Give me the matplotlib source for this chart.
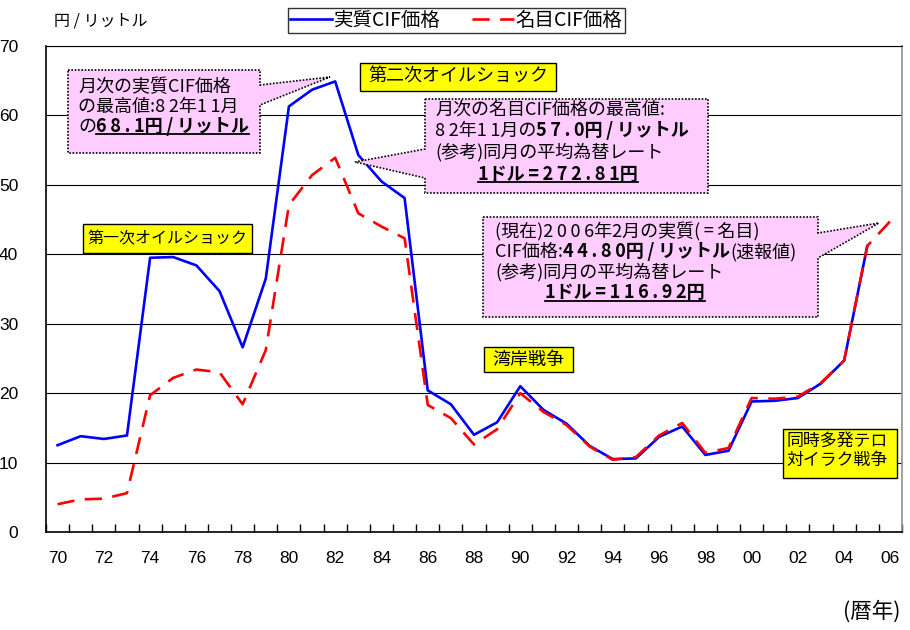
import numpy as np
import matplotlib
matplotlib.use("Agg")
import matplotlib.pyplot as plt
import matplotlib.transforms as mtransforms
from matplotlib.patches import Polygon, Rectangle
from matplotlib.lines import Line2D

plt.rcParams['font.family'] = ['Noto Sans CJK JP', 'DejaVu Sans']

# ---------------- data ----------------
years = list(range(1970, 2007))
real_cif = [12.5, 13.8, 13.4, 13.9, 39.5, 39.6, 38.4, 34.7, 26.6, 36.5,
            61.3, 63.7, 64.9, 54.3, 50.5, 48.1, 20.4, 18.4, 14.0, 15.8,
            21.0, 17.6, 15.6, 12.4, 10.5, 10.6, 13.7, 15.2, 11.1, 11.7,
            18.8, 18.9, 19.3, 21.4, 24.7, 41.2, np.nan]
nominal_cif = [4.0, 4.7, 4.8, 5.6, 19.7, 22.2, 23.4, 23.0, 18.4, 26.2,
               47.1, 51.4, 53.9, 45.9, 44.0, 42.3, 18.3, 16.4, 12.6, 14.8,
               20.0, 17.3, 15.4, 12.3, 10.4, 10.8, 13.9, 15.7, 11.4, 12.1,
               19.3, 19.2, 19.5, 21.5, 24.7, 41.2, 44.8]
tick_years = list(range(1970, 2007, 2))
tick_labels = ['70', '72', '74', '76', '78', '80', '82', '84', '86', '88',
               '90', '92', '94', '96', '98', '00', '02', '04', '06']
y_ticks = [0, 10, 20, 30, 40, 50, 60, 70]
series_names = ['実質CIF価格', '名目CIF価格']

W, H = 910, 630
fig = plt.figure(figsize=(W / 100, H / 100), dpi=100)
fig.patch.set_facecolor('white')
ax = fig.add_axes([46 / W, (H - 532) / H, (902 - 46) / W, (532 - 46) / H])

ax.plot(years, real_cif, color='#0000FF', lw=1.9, zorder=3, label=series_names[0])
ax.plot(years, nominal_cif, color='#FF0000', lw=1.9, zorder=4, label=series_names[1],
        dashes=(6.5, 4.0))

ax.set_xlim(1969.5, 2006.5)
ax.set_ylim(0, 70)
ax.set_yticks(y_ticks)
ax.set_yticklabels([str(v) for v in y_ticks], family=['Liberation Sans'], fontsize=12.5)
ax.set_xticks(tick_years)
ax.set_xticklabels(tick_labels, family=['Liberation Sans'], fontsize=12.5)
ax.set_xticks(np.arange(1969.5, 2007, 1.0), minor=True)
ax.tick_params(axis='x', which='major', length=0, pad=14)
ax.tick_params(axis='x', which='minor', direction='in', length=6, width=1, color='black')
ax.tick_params(axis='y', which='major', length=0, pad=20)
ax.grid(axis='y', color='black', lw=0.8, zorder=1)
for s in ['left', 'bottom', 'top']:
    ax.spines[s].set_color('black')
ax.spines['left'].set_linewidth(1.2)
ax.spines['bottom'].set_linewidth(1.2)
ax.spines['top'].set_linewidth(0.8)
ax.spines['right'].set_color('#909090')
ax.spines['right'].set_linewidth(1.2)

# legend
leg = fig.legend(loc='center', bbox_to_anchor=(456.5 / W, 1 - 20.5 / H), ncol=2,
                 frameon=True, fancybox=False, edgecolor='black', fontsize=14,
                 handlelength=2.15, handletextpad=0.1, columnspacing=1.6,
                 borderpad=0.1, borderaxespad=0)
leg.get_frame().set_linewidth(1.0)

# pixel transform (top-left origin)
T = mtransforms.Affine2D().scale(1 / W, -1 / H).translate(0, 1) + fig.transFigure

TS = '\u2009'  # thin space
fig.text(54 / W, 1 - 21 / H, '円 / リットル', fontsize=11.5, va='center', ha='left')
fig.text(872 / W, 1 - 612 / H, '(暦年)', fontsize=15.5, va='center', ha='center')

PINK = '#FFCCFF'
YELLOW = '#FFFF00'

def sp(s):
    return TS.join(s)

def callout(verts):
    p = Polygon(verts, closed=True, transform=T, facecolor=PINK, edgecolor='black',
                lw=1.2, linestyle=(0, (1, 1)), zorder=10)
    fig.add_artist(p)

def tbox(x0, y0, x1, y1):
    r = Rectangle((x0, y1), x1 - x0, y0 - y1, transform=T, facecolor=YELLOW,
                  edgecolor='black', lw=1.0, zorder=10)
    fig.add_artist(r)

underlined = []
FS = 13

def line_pieces(x, y, pieces, size=FS, ha='left'):
    """pieces: list of (text, bold, underline)."""
    prev = None
    for txt, bold, ul in pieces:
        w = 'bold' if bold else 'normal'
        if prev is None:
            t = fig.text(x / W, 1 - y / H, txt, fontsize=size, fontweight=w,
                         va='center', ha=ha, zorder=11)
        else:
            t = fig.add_artist(matplotlib.text.Annotation(
                txt, xy=(1, 0), xycoords=prev, va='bottom', ha='left',
                fontsize=size, fontweight=w, zorder=11))
        if ul:
            underlined.append(t)
        prev = t

# callout 1
callout([(68, 70), (260, 70), (260, 85), (330, 77), (260, 105), (260, 153), (68, 153)])
line_pieces(78, 87, [('月次の実質CIF価格', False, False)])
line_pieces(78, 107, [('の最高値:' + sp('82') + '年' + sp('11') + '月', False, False)])
line_pieces(78, 127, [('の', False, False), (sp('68.1') + '円' + TS + '/' + TS + 'リットル', True, True)])

# callout 2
callout([(425, 99), (708, 99), (708, 193), (425, 193), (425, 178), (355, 162), (425, 149)])
line_pieces(435, 110, [('月次の名目CIF価格の最高値:', False, False)])
line_pieces(435, 131, [(sp('82') + '年' + sp('11') + '月の', False, False),
                       (sp('57.0') + '円' + TS + '/' + TS + 'リットル', True, False)])
line_pieces(435, 152, [('(参考)同月の平均為替レート', False, False)])
line_pieces(478, 174, [('1ドル' + TS + '=' + TS + sp('272.81') + '円', True, True)])

# callout 3
callout([(483, 217), (818, 217), (818, 233), (879, 223), (818, 258), (818, 317), (483, 317)])
line_pieces(495, 232, [('(現在)' + sp('2006') + '年2月の実質(' + TS + '=' + TS + '名目)', False, False)])
line_pieces(495, 252, [('CIF価格:', False, False),
                       (sp('44.80') + '円' + TS + '/' + TS + 'リットル', True, False),
                       ('(速報値)', False, False)])
line_pieces(495, 272, [('(参考)同月の平均為替レート', False, False)])
line_pieces(545, 293, [('1ドル' + TS + '=' + TS + sp('116.92') + '円', True, True)])

# yellow labels
tbox(360, 63, 556, 91)
fig.text(458 / W, 1 - 77 / H, '第二次オイルショック', fontsize=13, ha='center', va='center', zorder=11)
tbox(83, 224, 252, 253)
fig.text(167.5 / W, 1 - 238.5 / H, '第一次オイルショック', fontsize=11.5, ha='center', va='center', zorder=11)
tbox(484, 347, 573, 372)
fig.text(528.5 / W, 1 - 359.5 / H, '湾岸戦争', fontsize=13, ha='center', va='center', zorder=11)
tbox(783, 429, 897, 478)
fig.text(786 / W, 1 - 441 / H, '同時多発テロ', fontsize=12.2, ha='left', va='center', zorder=11)
fig.text(786 / W, 1 - 460 / H, '対イラク戦争', fontsize=12.2, ha='left', va='center', zorder=11)

# underlines
fig.canvas.draw()
r = fig.canvas.get_renderer()
for t in underlined:
    bb = t.get_window_extent(r)
    yl = bb.y0 + 2
    fig.add_artist(Line2D([bb.x0, bb.x1], [yl, yl], transform=mtransforms.IdentityTransform(),
                          color='black', lw=1.3, zorder=12))

fig.savefig('out.png', dpi=100)
